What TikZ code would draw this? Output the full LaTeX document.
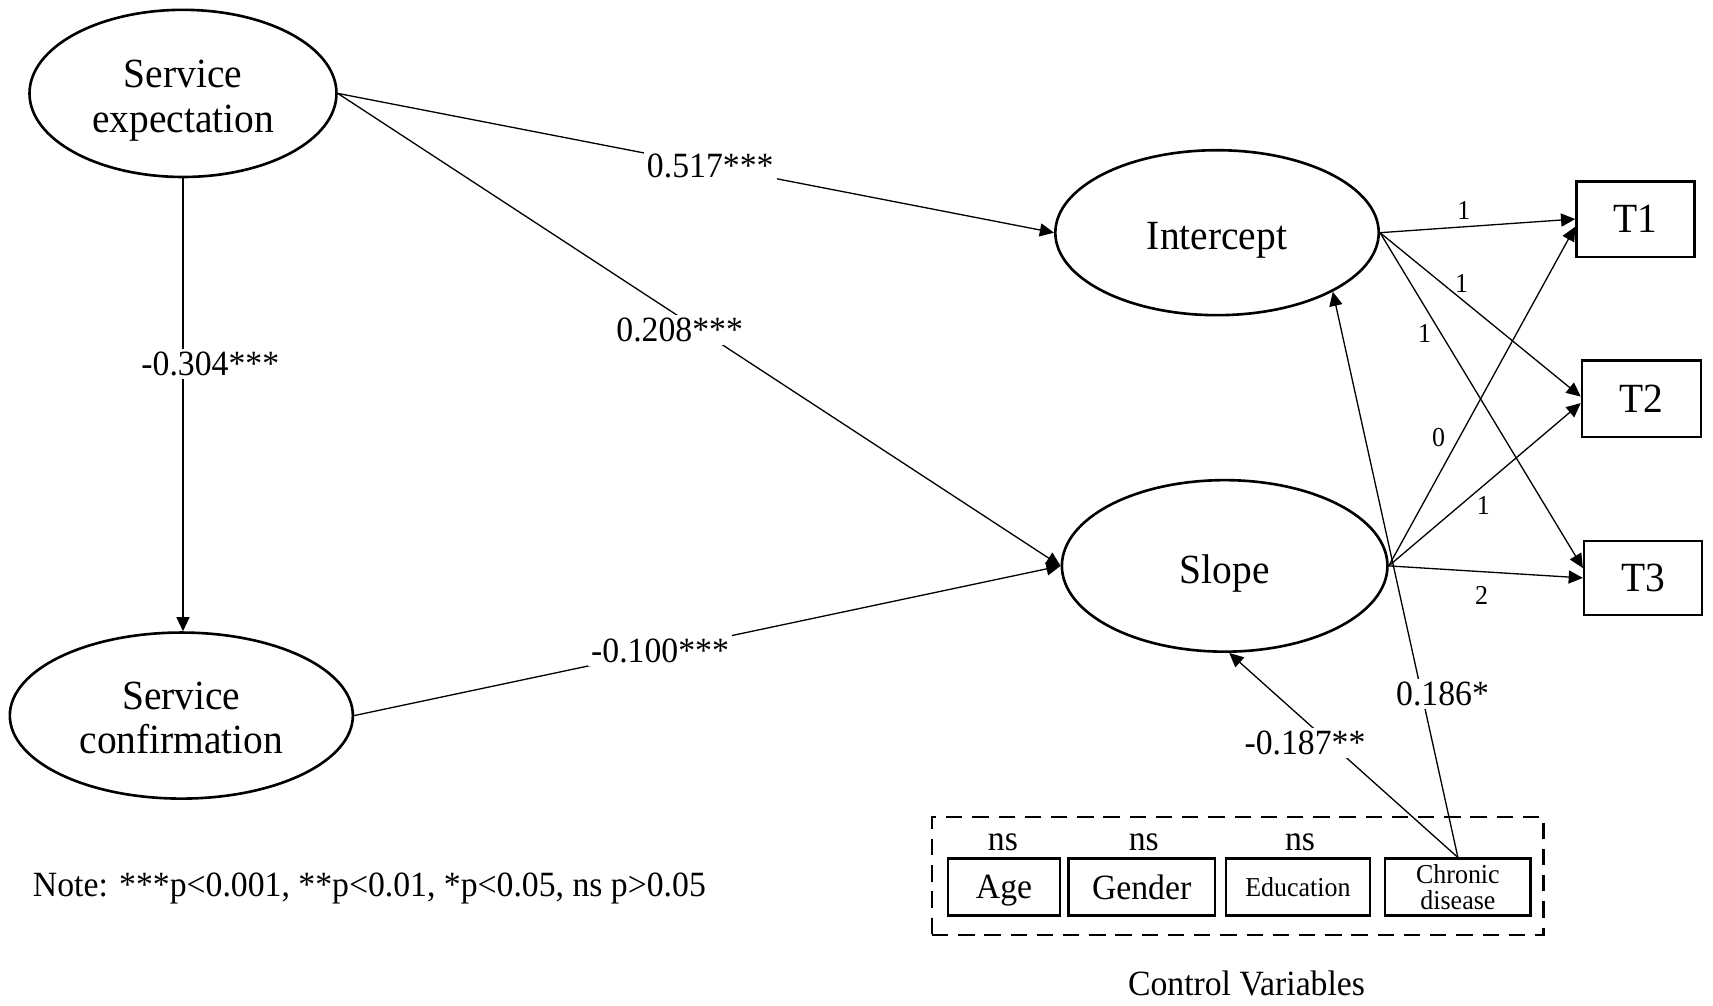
\documentclass[tikz,border=0pt]{standalone}
\usepackage{fontspec}
\setmainfont{Liberation Serif}[FakeStretch=0.95]
\usetikzlibrary{arrows.meta,shapes.geometric,calc}
\begin{document}
\begin{tikzpicture}[x=1pt,y=-1pt,
  latent/.style={ellipse,draw,line width=2.4pt,inner sep=0pt,align=center,text depth=0pt,font=\fontsize{38}{41}\selectfont},
  obs/.style={rectangle,draw,line width=2.2pt,inner sep=0pt,font=\fontsize{38}{41}\selectfont},
  ctrl/.style={rectangle,draw,line width=2.2pt,inner sep=0pt,minimum height=52pt,align=center},
  arr/.style={line width=1.2pt,-{Triangle[length=13pt,width=12pt]}},
  coef/.style={fill=white,inner sep=3pt,font=\fontsize{32.5}{37}\selectfont},
  load/.style={inner sep=1pt,font=\fontsize{25}{29}\selectfont},
  txt/.style={inner sep=0pt,font=\fontsize{32.5}{37}\selectfont}]
\useasboundingbox (0,0) rectangle (1568,920);

% latent variables
\node[latent,text height=72pt,minimum width=281pt,minimum height=153pt] (SE) at (167.5,85.5) {Service\\expectation};
\node[latent,text height=70pt,minimum width=314pt,minimum height=152pt] (SC) at (166,655) {Service\\confirmation};
\node[latent,text height=31pt,minimum width=296pt,minimum height=151pt] (I) at (1114,213) {Intercept};
\node[latent,text height=33pt,minimum width=298pt,minimum height=157pt] (S) at (1121,518) {Slope};

% observed
\node[obs,minimum width=108pt,minimum height=69pt] (T1) at (1497,200.5) {T1};
\node[obs,minimum width=109pt,minimum height=70pt] (T2) at (1502.5,365) {T2};
\node[obs,minimum width=108pt,minimum height=68pt] (T3) at (1504,529) {T3};

% control variables
\node[draw,line width=2.4pt,dash pattern=on 15pt off 9pt,minimum width=560pt,minimum height=108pt,inner sep=0pt] (CV) at (1133,802) {};
\node[ctrl,minimum width=102pt,text depth=0pt,font=\fontsize{32.5}{37}\selectfont] (Age) at (919,812) {Age};
\node[ctrl,minimum width=134pt,text depth=0pt,font=\fontsize{32.5}{37}\selectfont] (Gen) at (1045,812) {Gender};
\node[ctrl,minimum width=132pt,font=\fontsize{25}{28}\selectfont] (Edu) at (1188,812) {Education};
\node[ctrl,minimum width=133pt,font=\fontsize{25}{23}\selectfont] (CD) at (1334.5,812) {Chronic\\disease};
\node[txt] (nsA) at (918,771) {ns};
\node[txt] (nsG) at (1047,771) {ns};
\node[txt] (nsE) at (1190,771) {ns};
\node[txt] (cvlab) at (1141,900) {Control Variables};

\node[txt,anchor=base west] (note) at (30,821) {Note: ***p<0.001, **p<0.01, *p<0.05, ns p>0.05};

% structural paths
\draw[arr] (SE.east) -- node[coef,pos=0.52] {0.517***} (I.west);
\draw[arr] (SE.east) -- node[coef,pos=0.473,yshift=-12pt] {0.208***} (S.west);
\draw[arr] (SE.south) -- node[coef,pos=0.41,xshift=25pt] {-0.304***} (SE.south |- SC.north);
\draw[arr] (SC.east) -- node[coef,pos=0.433] {-0.100***} (S.west);

% loadings
\draw[arr] (I.east) -- node[load,pos=0.43,yshift=15pt] {1} (T1.west);
\draw[arr] (I.east) -- node[load,pos=0.406,yshift=14pt] {1} ([yshift=2pt]T2.west);
\draw[arr] (I.east) -- node[load,pos=0.3,xshift=-15pt] {1} ([yshift=9pt]T3.west);
\draw[arr] (S.east) -- node[load,pos=0.378,xshift=-19pt] {0} ([yshift=-7pt]T1.west);
\draw[arr] (S.east) -- node[load,pos=0.493,yshift=-18pt] {1} ([yshift=-4pt]T2.west);
\draw[arr] (S.east) -- node[load,pos=0.478,yshift=-22pt] {2} (T3.west);

% control paths
\draw[arr] (CD.north) -- node[coef,pos=0.289,xshift=19pt] {0.186*} (I.-27);
\draw[arr] (CD.north) -- node[coef,pos=0.559,xshift=-23pt] {-0.187**} (S.-87);
\end{tikzpicture}
\end{document}
